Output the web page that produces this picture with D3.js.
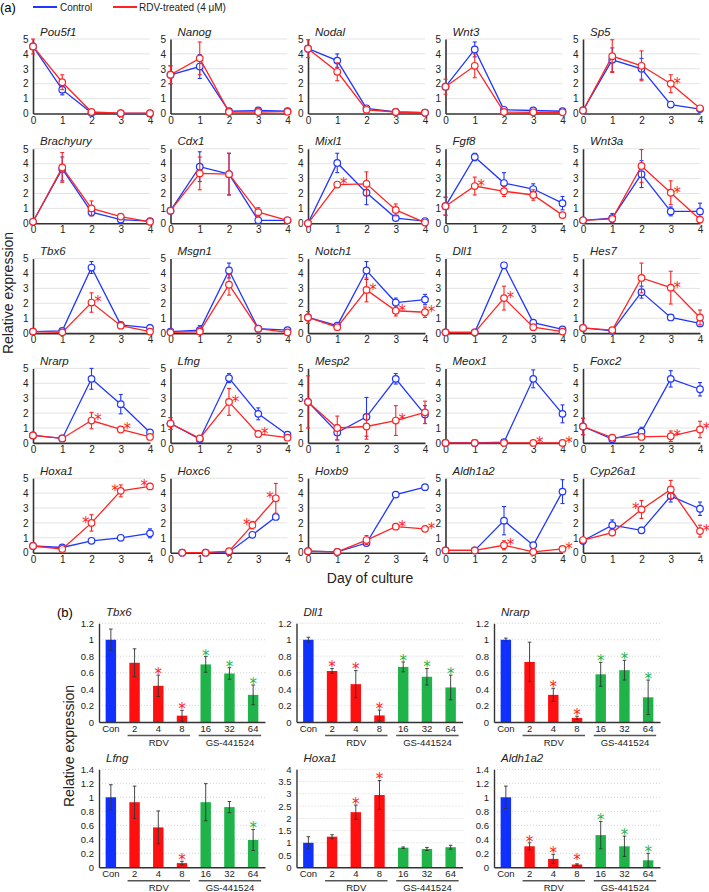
<!DOCTYPE html>
<html><head><meta charset="utf-8">
<script src="https://cdn.jsdelivr.net/npm/d3@7"></script>
<style>body{margin:0;background:#fff} svg text{font-family:"Liberation Sans",Arial,Helvetica,sans-serif} svg text.star{font-family:"DejaVu Sans",sans-serif}</style>
</head><body><svg id="c" width="709" height="892"></svg>
<script>
// ---------- Panel (a) data ----------
const days = [0, 1, 2, 3, 4];
const dayTicks = [0, 1, 2, 3, 4];
const yTicksA = [0, 1, 2, 3, 4, 5];
const genesA = ["Pou5f1","Nanog","Nodal","Wnt3","Sp5",
  "Brachyury","Cdx1","Mixl1","Fgf8","Wnt3a",
  "Tbx6","Msgn1","Notch1","Dll1","Hes7",
  "Nrarp","Lfng","Mesp2","Meox1","Foxc2",
  "Hoxa1","Hoxc6","Hoxb9","Aldh1a2","Cyp26a1"];
const specialDaysA = { Hoxc6: [0.4, 1.2, 2, 2.8, 3.6] };
const ctrlA = [
  [4.5,1.6,0.05,0,0],[2.6,3.15,0.15,0.2,0.15],[4.35,3.55,0.35,0.1,0.05],[1.8,4.3,0.25,0.2,0.15],[0.2,3.6,3.0,0.6,0.3],
  [0.1,3.65,0.75,0.25,0.15],[0.85,3.8,3.3,0.2,0.2],[0,4.05,2.05,0.35,0.15],[1.15,4.45,2.7,2.3,1.35],[0.2,0.35,3.3,0.8,0.8],
  [0.1,0.15,4.4,0.55,0.35],[0.1,0.2,4.2,0.3,0.2],[1.05,0.5,4.2,2.05,2.25],[0.05,0.05,4.55,0.7,0.25],[0.35,0.15,2.75,1.05,0.65],
  [0.5,0.3,4.3,2.6,0.7],[1.3,0.25,4.35,1.95,0.55],[2.75,0.7,1.75,4.3,1.9],[0,0,0.05,4.3,1.95],[1.1,0.25,0.75,4.3,3.6],
  [0.45,0.35,0.8,1.0,1.3],[0,0,0.05,1.2,2.4],[0.1,0.05,0.65,3.9,4.4],[0.15,0.15,2.15,0.5,4.1],[0.8,1.85,1.5,3.8,2.95]];
const ctrlErrA = [
  [0,0.35,0,0,0],[0.6,0.8,0,0.1,0],[0,0.45,0,0,0],[0,0.5,0,0.05,0],[0,0.8,0.7,0,0],
  [0,0.8,0.25,0,0.1],[0,1.0,1.4,0,0],[0,0.65,0.8,0,0.1],[0.6,0.25,0.7,0.35,0.45],[0,0.3,0.9,0.3,0.55],
  [0,0,0.4,0,0.2],[0,0.3,0.5,0,0.05],[0,0.1,0.6,0.3,0.35],[0,0,0.15,0,0.05],[0,0,0.4,0,0.1],
  [0,0,0.7,0.65,0.1],[0.4,0,0.3,0.4,0.1],[0,0.5,1.3,0.35,0.6],[0,0,0,0.6,0.6],[0.55,0.1,0.3,0.55,0.45],
  [0,0,0,0,0.3],[0,0,0,0.1,0.15],[0,0,0.1,0,0.15],[0,0,0.95,0,0.8],[0.2,0.35,0.2,0.4,0.45]];
const rdvA = [
  [4.5,2.1,0.1,0.02,0.02],[2.6,3.7,0.1,0.1,0.12],[4.35,2.8,0.25,0.1,0.05],[1.8,3.2,0.1,0.08,0.08],[0.2,3.85,3.2,2.0,0.35],
  [0.1,3.75,1.0,0.45,0.1],[0.85,3.35,3.3,0.75,0.2],[0,2.6,2.65,0.9,0.05],[1.15,2.5,2.15,1.9,0.55],[0.2,0.3,3.85,2.05,0.25],
  [0.1,0.05,2.05,0.5,0.1],[0.05,0.1,3.25,0.3,0.05],[1.05,0.4,2.9,1.5,1.4],[0.05,0.05,2.35,0.4,0.1],[0.35,0.2,3.7,3.05,1.05],
  [0.5,0.3,1.5,0.9,0.4],[1.3,0.3,2.75,0.6,0.35],[2.75,1.0,1.1,1.5,2.05],[0,0,0,0,0],[1.1,0.35,0.4,0.45,0.9],
  [0.45,0.25,2.0,4.15,4.45],[0,0,0.1,1.85,3.65],[0.1,0.05,0.85,1.75,1.6],[0.15,0.15,0.5,0.05,0.25],[0.85,1.35,2.9,4.25,1.45]];
const rdvErrA = [
  [0.5,0.5,0,0,0],[0.6,1.1,0,0,0],[0.6,0.6,0,0,0],[0.5,0.8,0,0,0],[0,1.1,1.0,0.6,0],
  [0,1.0,0.5,0.1,0],[0,1.1,1.4,0.3,0],[0,0.15,0.8,0.4,0],[0.6,0.6,0.35,0.35,0.15],[0,0.1,1.1,0.8,0],
  [0,0,0.65,0.1,0],[0,0,0.7,0,0],[0.4,0.1,0.8,0.35,0.35],[0,0,0.8,0,0],[0.1,0,1.0,1.1,0.5],
  [0,0,0.55,0.1,0],[0.4,0,0.9,0.2,0],[1.75,0.8,0.85,1.0,0.75],[0,0,0,0,0],[0.55,0.2,0.1,0.35,0.55],
  [0,0.15,0.55,0.4,0.2],[0,0,0,0.25,1.0],[0,0,0.3,0,0],[0,0,0.3,0,0],[0,0.2,0.6,0.6,0.4]];
// day indices with a significance star (right of point / left of point)
const starsRightA = [[],[],[],[],[3],[],[],[1],[1],[3],[2],[],[2,3,4],[2],[3],[2,3],[2,3],[3],[3,4],[3,4],[],[],[3,4],[2,4],[4]];
const starsLeftA  = [[],[],[],[],[],[],[],[],[],[],[],[],[],[],[],[],[],[],[],[],[2,3,4],[3,4],[],[],[2]];

// ---------- Panel (b) data ----------
const catsB = ["Con","2","4","8","16","32","64"];
const catGroupB = ["con","rdv","rdv","rdv","gs","gs","gs"];
const groupNamesB = ["RDV","GS-441524"];
const groupRangesB = [[1,3],[4,6]];
const genesB = ["Tbx6","Dll1","Nrarp","Lfng","Hoxa1","Aldh1a2"];
const yMaxB = [1.2,1.2,1.2,1.4,4,1.4];
const yStepB = [0.2,0.2,0.2,0.2,0.5,0.2];
const valsB = [
  [1.0,0.72,0.44,0.077,0.70,0.59,0.33],
  [1.0,0.62,0.46,0.08,0.67,0.55,0.42],
  [1.0,0.73,0.33,0.05,0.58,0.63,0.30],
  [1.0,0.93,0.57,0.06,0.93,0.86,0.39],
  [1.0,1.25,2.25,2.95,0.8,0.75,0.82],
  [1.0,0.30,0.12,0.04,0.46,0.30,0.10]];
const errB = [
  [0.13,0.17,0.13,0.065,0.095,0.07,0.12],
  [0.03,0.03,0.165,0.065,0.06,0.10,0.15],
  [0.02,0.24,0.08,0.02,0.145,0.12,0.21],
  [0.18,0.23,0.235,0.025,0.265,0.08,0.15],
  [0.25,0.08,0.29,0.59,0.03,0.06,0.08],
  [0.16,0.05,0.065,0.01,0.195,0.145,0.10]];
const starsB = [[2,3,4,5,6],[1,2,3,4,5,6],[2,3,4,5,6],[3,6],[2,3],[1,2,3,4,5,6]];

// ---------- drawing ----------
const BLUE = "#2036ff", RED = "#ff2424", AX = "#333";
const groupColor = {con: "#1030ff", rdv: "#ff1010", gs: "#1fb34a"};
const svg = d3.select("#c");

// legend
svg.append("text").attr("x", 0).attr("y", 12).attr("font-size", 13).text("(a)");
svg.append("line").attr("x1", 33).attr("x2", 57).attr("y1", 7).attr("y2", 7).attr("stroke", BLUE).attr("stroke-width", 2);
svg.append("text").attr("x", 60).attr("y", 10.5).attr("font-size", 10).attr("fill", "#222").text("Control");
svg.append("line").attr("x1", 113).attr("x2", 137).attr("y1", 7).attr("y2", 7).attr("stroke", RED).attr("stroke-width", 2);
svg.append("text").attr("x", 139).attr("y", 10.5).attr("font-size", 10).attr("fill", "#222").text("RDV-treated (4 \u03bcM)");

// axis titles
svg.append("text").attr("transform", "translate(13,293) rotate(-90)").attr("text-anchor", "middle")
  .attr("font-size", 14).attr("fill", "#222").text("Relative expression");
svg.append("text").attr("x", 370).attr("y", 583).attr("text-anchor", "middle")
  .attr("font-size", 14).attr("fill", "#222").text("Day of culture");

const PW = 117, PH = 74.5;
genesA.forEach((gene, i) => {
  const col = i % 5, row = Math.floor(i / 5);
  const x0 = 33 + col * 137.5, yTop = 39 + row * 109.8;
  const g = svg.append("g");
  const x = d3.scaleLinear().domain([0, 4]).range([x0, x0 + PW]);
  const y = d3.scaleLinear().domain([0, 5]).range([yTop + PH, yTop]);
  g.selectAll("line.grid").data(yTicksA.slice(1)).join("line")
    .attr("x1", x0).attr("x2", x0 + PW).attr("y1", d => y(d)).attr("y2", d => y(d))
    .attr("stroke", "#e3e3e3").attr("stroke-width", 1);
  const ya = g.append("g").attr("transform", `translate(${x0},0)`)
    .call(d3.axisLeft(y).tickValues(yTicksA).tickSize(0).tickSizeOuter(0).tickPadding(4.5).tickFormat(d3.format("d")));
  const xa = g.append("g").attr("transform", `translate(0,${yTop + PH})`)
    .call(d3.axisBottom(x).tickValues(dayTicks).tickSize(0).tickSizeOuter(0).tickPadding(3).tickFormat(d3.format("d")));
  [ya, xa].forEach(a => {
    a.select(".domain").attr("stroke", AX).attr("stroke-width", 1.6);
    a.selectAll("text").attr("font-size", 10).attr("fill", "#222").attr("font-family", null);
  });
  g.append("text").attr("x", x0 + 7).attr("y", yTop - 3.5).attr("font-size", 11.5)
    .attr("font-style", "italic").attr("fill", "#222").text(gene);

  const dx = specialDaysA[gene] || days;
  const series = [[ctrlA[i], ctrlErrA[i], BLUE], [rdvA[i], rdvErrA[i], RED]];
  series.forEach(([vals, errs, color]) => {
    const pts = vals.map((v, k) => ({x: dx[k], v, e: errs[k]}));
    const eb = g.append("g").attr("stroke", color).attr("stroke-width", 1.1);
    pts.filter(p => p.e > 0).forEach(p => {
      const lo = y(Math.max(0, p.v - p.e)), hi = y(p.v + p.e), cx = x(p.x);
      eb.append("line").attr("x1", cx).attr("x2", cx).attr("y1", lo).attr("y2", hi);
      eb.append("line").attr("x1", cx - 2).attr("x2", cx + 2).attr("y1", lo).attr("y2", lo);
      eb.append("line").attr("x1", cx - 2).attr("x2", cx + 2).attr("y1", hi).attr("y2", hi);
    });
    g.append("path").datum(pts).attr("fill", "none").attr("stroke", color).attr("stroke-width", 1.3)
      .attr("d", d3.line().x(p => x(p.x)).y(p => y(p.v)));
    g.selectAll(null).data(pts).join("circle").attr("cx", p => x(p.x)).attr("cy", p => y(p.v))
      .attr("r", 3.3).attr("fill", "#fff").attr("stroke", color).attr("stroke-width", 1.2);
  });
  const starAt = (k, off) => g.append("text").attr("class", "star")
      .attr("x", x(dx[k]) + off).attr("y", y(rdvA[i][k]) + 4.9)
      .attr("text-anchor", "middle").attr("font-size", 15).attr("fill", RED).text("*");
  starsRightA[i].forEach(k => starAt(k, 6.5));
  starsLeftA[i].forEach(k => starAt(k, -5.7));
});

// ---------- panel (b) ----------
svg.append("text").attr("x", 57).attr("y", 617).attr("font-size", 13).text("(b)");
svg.append("text").attr("transform", "translate(74,746) rotate(-90)").attr("text-anchor", "middle")
  .attr("font-size", 14).attr("fill", "#222").text("Relative expression");

genesB.forEach((gene, i) => {
  const col = i % 3, row = Math.floor(i / 3);
  const ax = 99 + col * 197.5;
  const y0 = row === 0 ? 722 : 867.3, yT = row === 0 ? 623.3 : 769.3;
  const BW = 166;
  const g = svg.append("g");
  const xb = d3.scaleBand().domain(catsB).range([ax, ax + BW]).paddingInner(0.56).paddingOuter(0.28);
  const yb = d3.scaleLinear().domain([0, yMaxB[i]]).range([y0, yT]);
  const ticks = d3.range(0, yMaxB[i] + 1e-9, yStepB[i]).map(d => +d.toFixed(2));
  g.selectAll("line.grid").data(ticks.slice(1)).join("line")
    .attr("x1", ax).attr("x2", ax + BW).attr("y1", d => yb(d)).attr("y2", d => yb(d))
    .attr("stroke", "#c8c8c8").attr("stroke-width", 0.8).attr("stroke-dasharray", "1,2");
  // bars
  g.selectAll("rect").data(valsB[i]).join("rect")
    .attr("x", (d, k) => xb(catsB[k])).attr("width", xb.bandwidth())
    .attr("y", d => yb(d)).attr("height", d => y0 - yb(d))
    .attr("fill", (d, k) => groupColor[catGroupB[k]]);
  // error bars
  const eb = g.append("g").attr("stroke", "#333").attr("stroke-width", 0.9);
  valsB[i].forEach((v, k) => {
    const e = errB[i][k], cx = xb(catsB[k]) + xb.bandwidth() / 2;
    const lo = yb(Math.max(0, v - e)), hi = yb(v + e);
    eb.append("line").attr("x1", cx).attr("x2", cx).attr("y1", lo).attr("y2", hi);
    eb.append("line").attr("x1", cx - 1.8).attr("x2", cx + 1.8).attr("y1", lo).attr("y2", lo);
    eb.append("line").attr("x1", cx - 1.8).attr("x2", cx + 1.8).attr("y1", hi).attr("y2", hi);
  });
  // stars
  starsB[i].forEach(k => {
    const cx = xb(catsB[k]) + xb.bandwidth() / 2;
    g.append("text").attr("class", "star").attr("x", cx)
      .attr("y", Math.min(yb(valsB[i][k] + errB[i][k]) + 3.9, y0 - 2))
      .attr("text-anchor", "middle").attr("font-size", 15)
      .attr("fill", catGroupB[k] === "rdv" ? "#ff2020" : "#1fb34a").text("*");
  });
  const ya = g.append("g").attr("transform", `translate(${ax},0)`)
    .call(d3.axisLeft(yb).tickValues(ticks).tickSize(0).tickSizeOuter(0).tickPadding(5).tickFormat(d => String(d)));
  const xa = g.append("g").attr("transform", `translate(0,${y0})`)
    .call(d3.axisBottom(xb).tickSize(0).tickSizeOuter(0).tickPadding(3));
  [ya, xa].forEach(a => {
    a.select(".domain").attr("stroke", AX).attr("stroke-width", 1.4);
    a.selectAll("text").attr("font-size", 9.5).attr("fill", "#222").attr("font-family", null);
  });
  // group underlines
  groupNamesB.forEach((name, gi) => {
    const [a, b] = groupRangesB[gi];
    const xa1 = xb(catsB[a]) + xb.bandwidth() / 2 - 7, xb1 = xb(catsB[b]) + xb.bandwidth() / 2 + 8;
    g.append("line").attr("x1", xa1).attr("x2", xb1).attr("y1", y0 + 13.5).attr("y2", y0 + 13.5)
      .attr("stroke", "#555").attr("stroke-width", 1.4);
    g.append("text").attr("x", (xa1 + xb1) / 2).attr("y", y0 + 23.8).attr("text-anchor", "middle")
      .attr("font-size", 9.5).attr("fill", "#222").text(name);
  });
  g.append("text").attr("x", ax + 7).attr("y", yT - 7).attr("font-size", 11.5)
    .attr("font-style", "italic").attr("fill", "#222").text(gene);
});
</script></body></html>
